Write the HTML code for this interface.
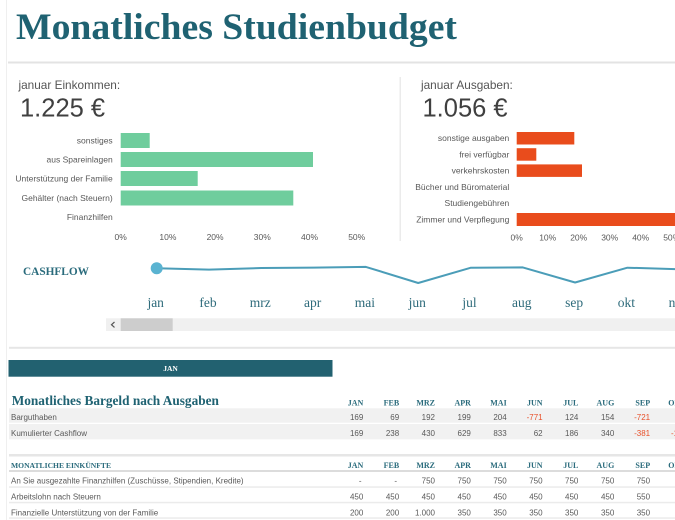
<!DOCTYPE html>
<html>
<head>
<meta charset="utf-8">
<style>
  html,body{margin:0;padding:0;background:#fff;}
  body{width:675px;height:520px;overflow:hidden;}
  svg{display:block;}
  .sans{font-family:"Liberation Sans",sans-serif;}
  .serif{font-family:"Liberation Serif",serif;}
</style>
</head>
<body>
<svg width="675" height="520" viewBox="0 0 675 520" xmlns="http://www.w3.org/2000/svg">
  <rect x="0" y="0" width="675" height="520" fill="#ffffff"/>
  <line x1="6.5" y1="0" x2="6.5" y2="520" stroke="#efefef" stroke-width="1"/>

  <text x="16" y="39" class="serif" font-size="37.5" font-weight="bold" fill="#1f6272" textLength="441" lengthAdjust="spacingAndGlyphs">Monatliches Studienbudget</text>
  <rect x="8" y="61.5" width="667" height="2" fill="#e3e3e3"/>

  <text x="18.5" y="89" class="sans" font-size="11.8" fill="#555555">januar Einkommen:</text>
  <text x="20" y="116.5" class="sans" font-size="25.5" fill="#404040">1.225 €</text>

  <text x="421" y="89" class="sans" font-size="11.8" fill="#555555">januar Ausgaben:</text>
  <text x="422.5" y="116.5" class="sans" font-size="25.5" fill="#404040">1.056 €</text>

  <rect x="399.5" y="77" width="1.5" height="164" fill="#ebebeb"/>

  <g class="sans" font-size="8.5" fill="#595959" text-anchor="end">
    <text x="112.7" y="143.5">sonstiges</text>
    <text x="112.7" y="162.5">aus Spareinlagen</text>
    <text x="112.7" y="181.5">Unterstützung der Familie</text>
    <text x="112.7" y="201">Gehälter (nach Steuern)</text>
    <text x="112.7" y="220">Finanzhilfen</text>
  </g>
  <g fill="#6fcd9d">
    <rect x="120.7" y="133" width="29" height="15"/>
    <rect x="120.7" y="152" width="192.3" height="15"/>
    <rect x="120.7" y="171" width="77" height="15"/>
    <rect x="120.7" y="190.5" width="172.6" height="15"/>
  </g>
  <g class="sans" font-size="8.5" fill="#595959" text-anchor="middle">
    <text x="120.7" y="239.8">0%</text>
    <text x="167.9" y="239.8">10%</text>
    <text x="215.1" y="239.8">20%</text>
    <text x="262.3" y="239.8">30%</text>
    <text x="309.5" y="239.8">40%</text>
    <text x="356.7" y="239.8">50%</text>
  </g>

  <g class="sans" font-size="8.5" fill="#595959" text-anchor="end">
    <text x="509.3" y="141.2">sonstige ausgaben</text>
    <text x="509.3" y="157.4">frei verfügbar</text>
    <text x="509.3" y="173.6">verkehrskosten</text>
    <text x="509.3" y="189.8">Bücher und Büromaterial</text>
    <text x="509.3" y="206">Studiengebühren</text>
    <text x="509.3" y="222.4">Zimmer und Verpflegung</text>
  </g>
  <g fill="#e94c1c">
    <rect x="516.7" y="132" width="57.6" height="12.5"/>
    <rect x="516.7" y="148.2" width="19.6" height="12.5"/>
    <rect x="516.7" y="164.4" width="65.3" height="12.5"/>
    <rect x="516.7" y="213" width="160" height="13"/>
  </g>
  <g class="sans" font-size="8.5" fill="#595959" text-anchor="middle">
    <text x="516.7" y="240.3">0%</text>
    <text x="547.7" y="240.3">10%</text>
    <text x="578.7" y="240.3">20%</text>
    <text x="609.7" y="240.3">30%</text>
    <text x="640.7" y="240.3">40%</text>
    <text x="671.7" y="240.3">50%</text>
  </g>

  <text x="23" y="275" class="serif" font-size="11.3" font-weight="bold" fill="#2a6b7c">CASHFLOW</text>
  <polyline fill="none" stroke="#4b9db8" stroke-width="2" stroke-linejoin="round"
    points="156.7,268.3 209,269.6 261.3,268 313.6,267.6 365.9,266.9 418.2,283 470.5,267.8 522.8,267.4 575.1,282.5 627.4,267.7 679.7,269.3"/>
  <circle cx="156.7" cy="268.3" r="6" fill="#5ab3d1"/>
  <g class="serif" font-size="13.5" fill="#2e6b7b" text-anchor="middle">
    <text x="155.7" y="307">jan</text>
    <text x="208" y="307">feb</text>
    <text x="260.3" y="307">mrz</text>
    <text x="312.6" y="307">apr</text>
    <text x="364.9" y="307">mai</text>
    <text x="417.2" y="307">jun</text>
    <text x="469.5" y="307">jul</text>
    <text x="521.8" y="307">aug</text>
    <text x="574.1" y="307">sep</text>
    <text x="626.4" y="307">okt</text>
    <text x="678.7" y="307">nov</text>
  </g>
  <rect x="106" y="318.3" width="569" height="12.7" fill="#f0f0f0"/>
  <rect x="120.7" y="318.3" width="52" height="12.7" fill="#cdcdcd"/>
  <polyline points="114.5,322 111.5,324.7 114.5,327.4" fill="none" stroke="#555" stroke-width="1.2"/>

  <rect x="9" y="346.8" width="666" height="2" fill="#e6e6e6"/>

  <rect x="8.5" y="360" width="324" height="16.7" fill="#226170"/>
  <text x="170.5" y="371.2" class="serif" font-size="7.5" font-weight="bold" fill="#ffffff" text-anchor="middle">JAN</text>

  <text x="11.7" y="405" class="serif" font-size="13.3" font-weight="bold" fill="#1f6272">Monatliches Bargeld nach Ausgaben</text>
  <g class="serif" font-size="8" font-weight="bold" fill="#2a6b7c" text-anchor="end">
    <text x="363.3" y="405.3">JAN</text>
    <text x="399.2" y="405.3">FEB</text>
    <text x="435" y="405.3">MRZ</text>
    <text x="470.9" y="405.3">APR</text>
    <text x="506.7" y="405.3">MAI</text>
    <text x="542.6" y="405.3">JUN</text>
    <text x="578.4" y="405.3">JUL</text>
    <text x="614.3" y="405.3">AUG</text>
    <text x="650.1" y="405.3">SEP</text>
    <text x="686" y="405.3">OKT</text>
  </g>
  <rect x="9" y="408.3" width="666" height="14.4" fill="#f1f1f1"/>
  <rect x="9" y="424" width="666" height="15.3" fill="#f1f1f1"/>
  <g class="sans" font-size="8" fill="#595959">
    <text x="11" y="420.2">Barguthaben</text>
    <text x="11" y="436.2">Kumulierter Cashflow</text>
  </g>
  <g class="sans" font-size="8" fill="#595959" text-anchor="end">
    <text x="363.3" y="420.2">169</text>
    <text x="399.2" y="420.2">69</text>
    <text x="435" y="420.2">192</text>
    <text x="470.9" y="420.2">199</text>
    <text x="506.7" y="420.2">204</text>
    <text x="542.6" y="420.2" fill="#e8502a">-771</text>
    <text x="578.4" y="420.2">124</text>
    <text x="614.3" y="420.2">154</text>
    <text x="650.1" y="420.2" fill="#e8502a">-721</text>
    <text x="690" y="420.2">190</text>

    <text x="363.3" y="436.2">169</text>
    <text x="399.2" y="436.2">238</text>
    <text x="435" y="436.2">430</text>
    <text x="470.9" y="436.2">629</text>
    <text x="506.7" y="436.2">833</text>
    <text x="542.6" y="436.2">62</text>
    <text x="578.4" y="436.2">186</text>
    <text x="614.3" y="436.2">340</text>
    <text x="650.1" y="436.2" fill="#e8502a">-381</text>
    <text x="687" y="436.2" fill="#e8502a">-191</text>
  </g>

  <rect x="9" y="454" width="666" height="2.5" fill="#e6e6e6"/>
  <text x="11" y="468" class="serif" font-size="7.6" font-weight="bold" fill="#2a6b7c">MONATLICHE EINKÜNFTE</text>
  <g class="serif" font-size="8" font-weight="bold" fill="#2a6b7c" text-anchor="end">
    <text x="363.3" y="468">JAN</text>
    <text x="399.2" y="468">FEB</text>
    <text x="435" y="468">MRZ</text>
    <text x="470.9" y="468">APR</text>
    <text x="506.7" y="468">MAI</text>
    <text x="542.6" y="468">JUN</text>
    <text x="578.4" y="468">JUL</text>
    <text x="614.3" y="468">AUG</text>
    <text x="650.1" y="468">SEP</text>
    <text x="686" y="468">OKT</text>
  </g>
  <rect x="9" y="470" width="666" height="2" fill="#dcdcdc"/>
  <rect x="9" y="486.3" width="666" height="1.5" fill="#ebebeb"/>
  <rect x="9" y="501.8" width="666" height="1.5" fill="#ebebeb"/>
  <rect x="9" y="517.3" width="666" height="1.5" fill="#ebebeb"/>
  <g class="sans" font-size="8" fill="#595959">
    <text x="11" y="483.6">An Sie ausgezahlte Finanzhilfen (Zuschüsse, Stipendien, Kredite)</text>
    <text x="11" y="499.6">Arbeitslohn nach Steuern</text>
    <text x="11" y="515.6">Finanzielle Unterstützung von der Familie</text>
  </g>
  <g class="sans" font-size="8" fill="#595959" text-anchor="end">
    <text x="361.5" y="483.6">-</text>
    <text x="397" y="483.6">-</text>
    <text x="435" y="483.6">750</text>
    <text x="470.9" y="483.6">750</text>
    <text x="506.7" y="483.6">750</text>
    <text x="542.6" y="483.6">750</text>
    <text x="578.4" y="483.6">750</text>
    <text x="614.3" y="483.6">750</text>
    <text x="650.1" y="483.6">750</text>
    <text x="688.5" y="483.6">750</text>

    <text x="363.3" y="499.6">450</text>
    <text x="399.2" y="499.6">450</text>
    <text x="435" y="499.6">450</text>
    <text x="470.9" y="499.6">450</text>
    <text x="506.7" y="499.6">450</text>
    <text x="542.6" y="499.6">450</text>
    <text x="578.4" y="499.6">450</text>
    <text x="614.3" y="499.6">450</text>
    <text x="650.1" y="499.6">550</text>
    <text x="688.5" y="499.6">550</text>

    <text x="363.3" y="515.6">200</text>
    <text x="399.2" y="515.6">200</text>
    <text x="435" y="515.6">1.000</text>
    <text x="470.9" y="515.6">350</text>
    <text x="506.7" y="515.6">350</text>
    <text x="542.6" y="515.6">350</text>
    <text x="578.4" y="515.6">350</text>
    <text x="614.3" y="515.6">350</text>
    <text x="650.1" y="515.6">350</text>
    <text x="688.5" y="515.6">350</text>
  </g>
</svg>
</body>
</html>
